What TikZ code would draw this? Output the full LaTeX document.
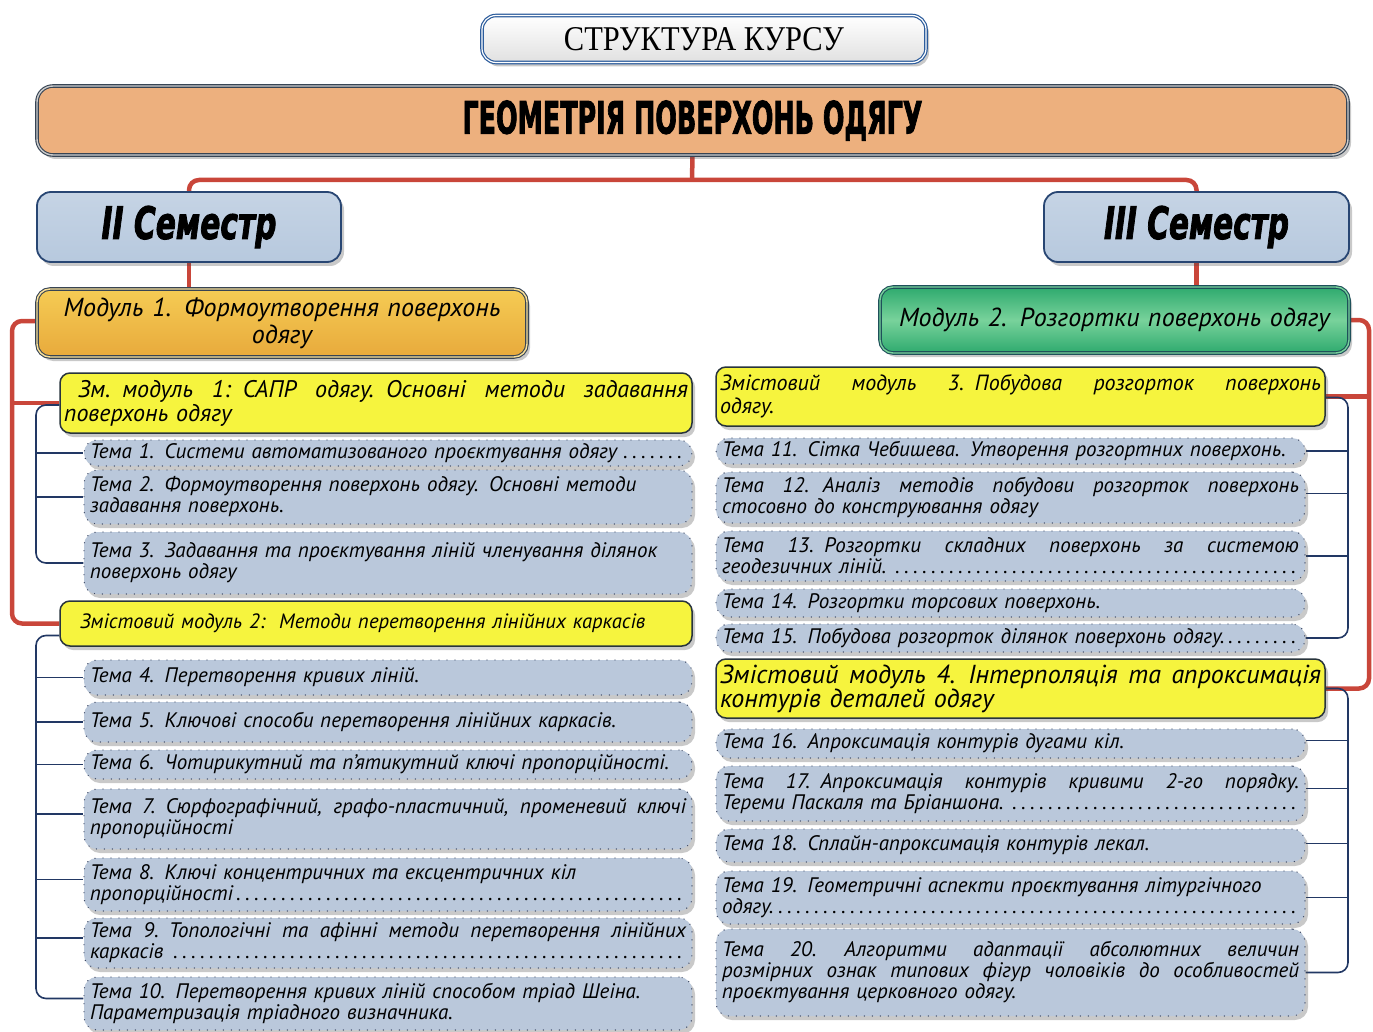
\documentclass[tikz,border=0pt]{standalone}
\usepackage{fontspec}
\setmainfont{PT Sans}
\newfontfamily\heavyfont{DejaVu Sans}[FakeBold=2.5]
\newfontfamily\titlefont{Liberation Serif}
\usetikzlibrary{shadows,calc}
\pgfdeclarelayer{bg}
\pgfsetlayers{bg,main}
\definecolor{mainor}{RGB}{237,176,126}
\definecolor{framedk}{RGB}{55,68,84}
\definecolor{titleblue}{RGB}{44,92,156}
\definecolor{semfill}{RGB}{183,201,222}
\definecolor{semdraw}{RGB}{40,70,115}
\definecolor{goldtop}{RGB}{245,204,84}
\definecolor{goldbot}{RGB}{232,170,60}
\definecolor{greendk}{RGB}{46,170,110}
\definecolor{greenlt}{RGB}{120,210,155}
\definecolor{greenbd}{RGB}{30,80,90}
\definecolor{zmyellow}{RGB}{246,244,62}
\definecolor{zmborder}{RGB}{40,52,60}
\definecolor{topicfill}{RGB}{186,200,219}
\definecolor{dotcol}{RGB}{60,72,100}
\definecolor{redc}{RGB}{201,70,58}
\definecolor{navyc}{RGB}{34,56,100}
\newcommand\dotlead{\leaders\hbox to 9pt{\hss.\hss}\hfill}
\newcommand\jline[1]{{\spaceskip=0.25em plus 1fil\relax\makebox[\linewidth][s]{#1}}}
\newcommand\dline[1]{\makebox[\linewidth][l]{#1\dotlead}}
\tikzset{
  shad/.style={drop shadow={shadow xshift=3pt, shadow yshift=-4pt, opacity=0.3, fill=black!70}},
  titlebox/.style={rounded corners=14pt, top color=white, bottom color=black!12, draw=titleblue, line width=1.2pt, double=white, double distance=1.2pt, shad},
  mainbox/.style={rounded corners=16pt, fill=mainor, draw=framedk, line width=1.1pt, double=black!20, double distance=1.4pt, shad},
  sembox/.style={rounded corners=14pt, top color=semfill!80!white, bottom color=semfill, draw=semdraw, line width=1.8pt, shad},
  modone/.style={rounded corners=13pt, top color=goldtop, bottom color=goldbot, draw=framedk, line width=1.1pt, double=goldtop!60!white, double distance=1.4pt, shad, align=center, font=\fontsize{26}{27}\selectfont\itshape},
  modtwo/.style={rounded corners=13pt, top color=greendk, bottom color=greendk, middle color=greenlt, draw=greenbd, line width=1.1pt, double=greenlt, double distance=1.4pt, shad, align=center, font=\fontsize{26}{27}\selectfont\itshape},
  zmbox/.style={rounded corners=10pt, fill=zmyellow, draw=zmborder, line width=1.5pt, shad, align=left, inner xsep=4pt, inner ysep=0pt},
  topicbox/.style={rounded corners=13pt, fill=topicfill, draw=dotcol, line width=1.4pt, dash pattern=on 0pt off 8pt, line cap=round, shad, align=left, inner xsep=6pt, inner ysep=0pt, font=\fontsize{21}{21}\selectfont\itshape},
  topicL/.style={topicbox, text width=596pt},
  topicR/.style={topicbox, text width=577pt},
  redline/.style={draw=redc, line width=4.5pt, rounded corners=10pt},
  navline/.style={draw=navyc, line width=1.6pt, rounded corners=10pt},
}
\begin{document}
\begin{tikzpicture}[x=1pt,y=-1pt]
\useasboundingbox (0,0) rectangle (1373,1032);
% headings
\node[titlebox, minimum width=444, minimum height=47] (title) at (704,39)
  {\resizebox{280pt}{23pt}{\titlefont СТРУКТУРА КУРСУ}};
\node[mainbox, minimum width=1311, minimum height=69] (main) at (692.5,120.5)
  {\resizebox{460pt}{33pt}{\heavyfont\bfseries ГЕОМЕТРІЯ ПОВЕРХОНЬ ОДЯГУ}};
\node[sembox, minimum width=304, minimum height=70] (sem2) at (189,227)
  {\resizebox{175pt}{33pt}{\heavyfont\bfseries\itshape II Семестр}};
\node[sembox, minimum width=305, minimum height=70] (sem3) at (1196.5,227)
  {\resizebox{185pt}{33pt}{\heavyfont\bfseries\itshape III Семестр}};
\node[modone, minimum width=490, minimum height=68, text width=470pt] (mod1) at (282,323)
  {Модуль 1. Формоутворення поверхонь\\ одягу};
\node[modtwo, minimum width=469, minimum height=66, text width=455pt] (mod2) at (1114.5,320)
  {Модуль 2. Розгортки поверхонь одягу};
% left column
\node[zmbox, minimum width=632, minimum height=60, text width=624pt, font=\fontsize{24}{24}\selectfont\itshape] (zm1) at (376,403)
  {\jline{\hspace*{14pt}Зм. модуль 1: САПР одягу. Основні методи задавання}\\поверхонь одягу};
\node[topicL, minimum height=26] (t1) at (388,453)
  {\dline{Тема 1. Системи автоматизованого проєктування одягу}};
\node[topicL, minimum height=54] (t2) at (388,497)
  {Тема 2. Формоутворення поверхонь одягу. Основні методи\\задавання поверхонь.};
\node[topicL, minimum height=62] (t3) at (388,563)
  {Тема 3. Задавання та проєктування ліній членування ділянок\\поверхонь одягу};
\node[zmbox, minimum width=632, minimum height=45, text width=624pt, font=\fontsize{20.7}{21}\selectfont\itshape] (zm2) at (376,623.5)
  {\hspace*{16pt}Змістовий модуль 2:\ \ Методи перетворення лінійних каркасів};
\node[topicL, minimum height=35] (t4) at (388,677.5)
  {Тема 4. Перетворення кривих ліній.};
\node[topicL, minimum height=40] (t5) at (388,722)
  {Тема 5. Ключові способи перетворення лінійних каркасів.};
\node[topicL, minimum height=29] (t6) at (388,764.5)
  {Тема 6. Чотирикутний та п’ятикутний ключі пропорційності.};
\node[topicL, minimum height=60] (t7) at (388,819)
  {\jline{Тема 7. Сюрфографічний, графо-пластичний, променевий ключі}\\пропорційності};
\node[topicL, minimum height=53] (t8) at (388,884.5)
  {Тема 8. Ключі концентричних та ексцентричних кіл\\\dline{пропорційності}};
\node[topicL, minimum height=50] (t9) at (388,943)
  {\jline{Тема 9. Топологічні та афінні методи перетворення лінійних}\\\dline{каркасів}};
\node[topicL, minimum height=53] (t10) at (388,1003.5)
  {Тема 10. Перетворення кривих ліній способом тріад Шеіна.\\Параметризація тріадного визначника.};
% right column
\node[zmbox, minimum width=609, minimum height=59, text width=601pt, font=\fontsize{22}{23}\selectfont\itshape] (zm3) at (1020.5,396.5)
  {\jline{Змістовий модуль 3. Побудова розгорток поверхонь}\\одягу.};
\node[topicR, minimum height=26] (t11) at (1010.5,451)
  {Тема 11. Сітка Чебишева. Утворення розгортних поверхонь.};
\node[topicR, minimum height=51] (t12) at (1010.5,497.5)
  {\jline{Тема 12.\hspace{14pt}Аналіз методів побудови розгорток поверхонь}\\стосовно до конструювання одягу};
\node[topicR, minimum height=50] (t13) at (1010.5,556)
  {\jline{Тема 13. Розгортки складних поверхонь за системою}\\\dline{геодезичних ліній.}};
\node[topicR, minimum height=28] (t14) at (1010.5,603)
  {Тема 14. Розгортки торсових поверхонь.};
\node[topicR, minimum height=28] (t15) at (1010.5,638)
  {\dline{Тема 15. Побудова розгорток ділянок поверхонь одягу.}};
\node[zmbox, minimum width=609, minimum height=59, text width=601pt, font=\fontsize{26}{24}\selectfont\itshape] (zm4) at (1020.5,688.5)
  {\jline{Змістовий модуль 4. Інтерполяція та апроксимація}\\контурів деталей одягу};
\node[topicR, minimum height=29] (t16) at (1010.5,743.5)
  {Тема 16. Апроксимація контурів дугами кіл.};
\node[topicR, minimum height=55] (t17) at (1010.5,793.5)
  {\jline{Тема 17. Апроксимація контурів кривими 2-го порядку.}\\\dline{Тереми Паскаля та Бріаншона.}};
\node[topicR, minimum height=33] (t18) at (1010.5,845.5)
  {Тема 18. Сплайн-апроксимація контурів лекал.};
\node[topicR, minimum height=53] (t19) at (1010.5,897.5)
  {Тема 19. Геометричні аспекти проєктування літургічного\\\dline{одягу.}};
\node[topicR, minimum height=87] (t20) at (1010.5,972.5)
  {\jline{Тема 20.\hspace{28pt}Алгоритми адаптації абсолютних величин}\\\jline{розмірних ознак типових фігур чоловіків до особливостей}\\проєктування церковного одягу.\\[10pt]};
% rails
\coordinate (bus) at (692,180);
\coordinate (lrail) at (12,0);
\coordinate (rrail) at (1369,0);
\coordinate (nl) at (36,0);
\coordinate (nr) at (1348,0);
\begin{pgfonlayer}{bg}
\draw[redline] (sem2.north) |- (bus) -| (sem3.north);
\draw[redline] (main.south) -- (bus);
\draw[redline] (sem2.south) -- (sem2.south |- mod1.north);
\draw[redline] (sem3.south) -- (sem3.south |- mod2.north);
\draw[redline] ([yshift=2pt]mod1.west) -| (lrail |- zm2.west) -- (zm2.west);
\draw[redline] (lrail |- zm1.west) -- (zm1.west);
\draw[redline] (mod2.east) -| (rrail |- zm4.east) -- (zm4.east);
\draw[redline] (rrail |- zm3.east) -- (zm3.east);
% navy left
\draw[navline] ([yshift=-2pt]zm1.west) -| (nl |- t3.west) -- (t3.west);
\draw[navline] (nl |- t1.west) -- (t1.west);
\draw[navline] (nl |- t2.west) -- (t2.west);
\draw[navline] ([yshift=-12pt]zm2.west) -| ([yshift=5pt]nl |- t10.west) -- ([yshift=5pt]t10.west);
\foreach \t in {t4,t5,t6}{\draw[navline] (nl |- \t.west) -- (\t.west);}
\foreach \t in {t7,t8,t9}{\draw[navline] ([yshift=5pt]nl |- \t.west) -- ([yshift=5pt]\t.west);}
% navy right
\draw[navline] ([yshift=-1pt]zm3.east) -| (nr |- t15.east) -- (t15.east);
\draw[navline] (nr |- t11.east) -- (t11.east);
\draw[navline] ([yshift=4pt]nr |- t12.east) -- ([yshift=4pt]t12.east);
\draw[navline] (nr |- t13.east) -- (t13.east);
\draw[navline] (zm4.east) -| (nr |- t20.east) -- (t20.east);
\draw[navline] ([yshift=3pt]nr |- t16.east) -- ([yshift=3pt]t16.east);
\draw[navline] ([yshift=5pt]nr |- t17.east) -- ([yshift=5pt]t17.east);
\draw[navline] ([yshift=2pt]nr |- t18.east) -- ([yshift=2pt]t18.east);
\draw[navline] (nr |- t19.east) -- (t19.east);
\end{pgfonlayer}
\end{tikzpicture}
\end{document}
